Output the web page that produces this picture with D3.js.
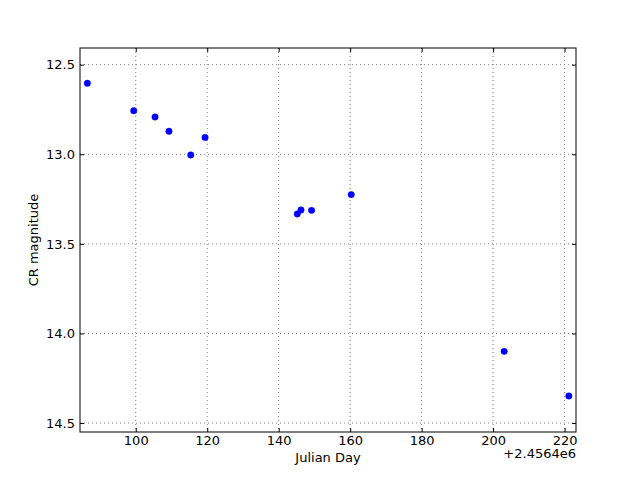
<!DOCTYPE html>
<html><head><meta charset="utf-8">
<script src="https://cdn.jsdelivr.net/npm/d3@7"></script>
<style>body{margin:0;background:#fff}svg{display:block}text{font-family:"DejaVu Sans",sans-serif}</style>
</head><body>
<script>
const jdOffset = 2456400;
const julianDay = [86.46, 99.44, 105.4, 109.3, 115.4, 119.4, 145.2, 146.25, 149.2, 160.3, 203.1, 221.2];
const magnitude = [12.604, 12.757, 12.792, 12.872, 13.004, 12.906, 13.333, 13.311, 13.313, 13.225, 14.10, 14.349];
const xTicks = [100, 120, 140, 160, 180, 200, 220];
const yTicks = [12.5, 13.0, 13.5, 14.0, 14.5];
const xLabel = "Julian Day", yLabel = "CR magnitude", offsetLabel = "+2.4564e6";

const W = 640, H = 480, L = 80, R = 576, T = 48, B = 432;
const svg = d3.select("body").append("svg").attr("width", W).attr("height", H);
const x = d3.scaleLinear().domain([84.4, 223.2]).range([L, R]);
const y = d3.scaleLinear().domain([12.407, 14.55]).range([T, B]);
const fs = 13;

// grid
const g = svg.append("g");
g.selectAll(".gx").data(xTicks).join("line")
  .attr("x1", d => x(d)).attr("x2", d => x(d)).attr("y1", T).attr("y2", B)
  .attr("stroke", "#808080").attr("stroke-width", 1).attr("stroke-dasharray", "1,3");
g.selectAll(".gy").data(yTicks).join("line")
  .attr("y1", d => y(d)).attr("y2", d => y(d)).attr("x1", L).attr("x2", R)
  .attr("stroke", "#808080").attr("stroke-width", 1).attr("stroke-dasharray", "1,3");

// axes with inward ticks
const axB = d3.axisBottom(x).tickValues(xTicks).tickSize(-4).tickPadding(4).tickFormat(d3.format("d"));
const axT = d3.axisTop(x).tickValues(xTicks).tickSize(-4).tickFormat("");
const axL = d3.axisLeft(y).tickValues(yTicks).tickSize(-4).tickPadding(5).tickFormat(d3.format(".1f"));
const axR = d3.axisRight(y).tickValues(yTicks).tickSize(-4).tickFormat("");
function style(sel){
  sel.select(".domain").remove();
  sel.selectAll("line").attr("stroke", "#000");
  sel.selectAll("text").attr("font-size", fs).attr("fill", "#000").attr("font-family", "DejaVu Sans, sans-serif");
}
svg.append("g").attr("transform", `translate(0,${B})`).call(axB).call(style);
svg.append("g").attr("transform", `translate(0,${T})`).call(axT).call(style);
svg.append("g").attr("transform", `translate(${L},0)`).call(axL).call(style);
svg.append("g").attr("transform", `translate(${R},0)`).call(axR).call(style);

// points
svg.append("g").selectAll("circle").data(julianDay).join("circle")
  .attr("cx", (d, i) => x(d)).attr("cy", (d, i) => y(magnitude[i])).attr("r", 3.2)
  .attr("fill", "#0000ff").attr("stroke", "#0000ff").attr("stroke-width", 0.5);

// frame
svg.append("rect").attr("x", L).attr("y", T).attr("width", R - L).attr("height", B - T)
  .attr("fill", "none").attr("stroke", "#000").attr("stroke-width", 1);

// labels
svg.append("text").attr("x", (L + R) / 2).attr("y", 462).attr("text-anchor", "middle")
  .attr("font-size", fs).text(xLabel);
svg.append("text").attr("transform", `translate(38,${(T + B) / 2}) rotate(-90)`)
  .attr("text-anchor", "middle").attr("font-size", fs).text(yLabel);
svg.append("text").attr("x", R).attr("y", 458).attr("text-anchor", "end")
  .attr("font-size", fs).text(offsetLabel);
</script>
</body></html>
